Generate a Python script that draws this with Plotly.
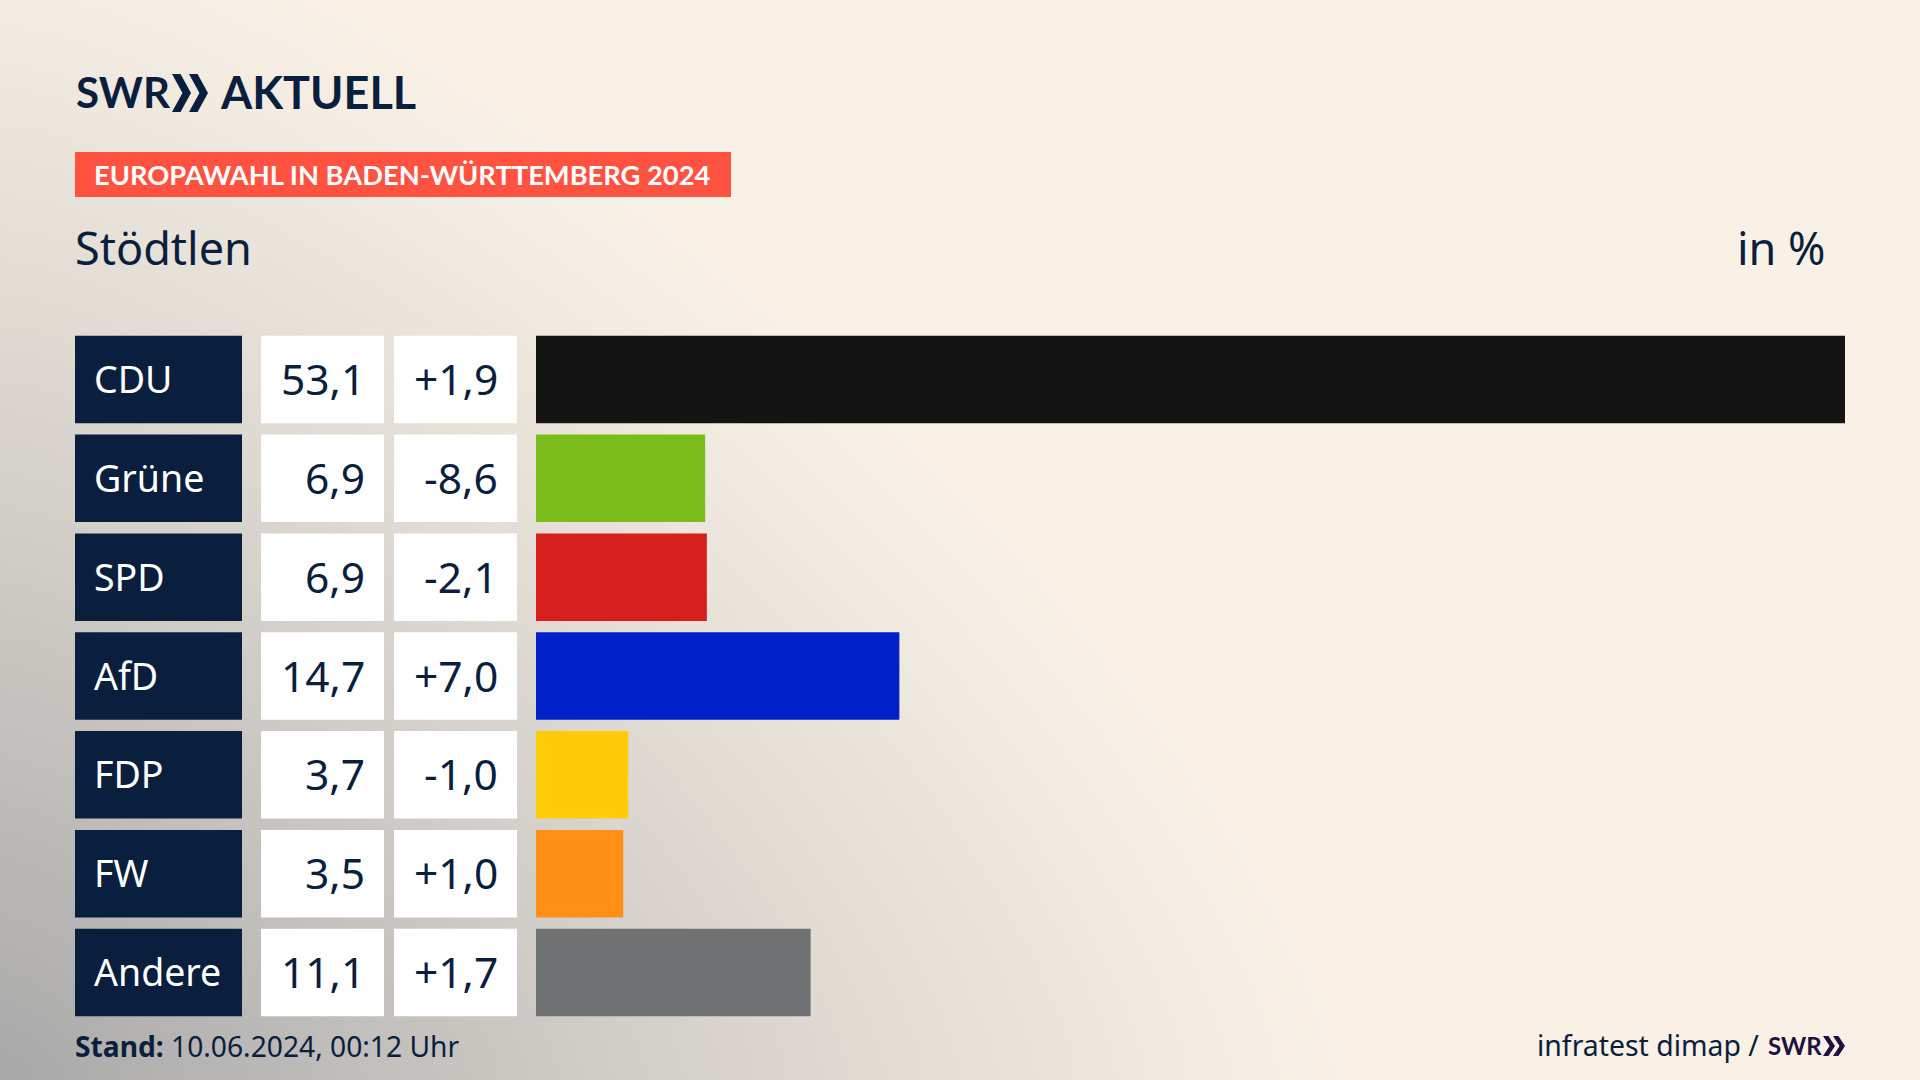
import numpy as np
import plotly.graph_objects as go

W, H = 1920, 1080

parties = ["CDU", "Grüne", "SPD", "AfD", "FDP", "FW", "Andere"]
shares = [53.1, 6.86, 6.93, 14.74, 3.74, 3.54, 11.14]
changes = [1.9, -8.6, -2.1, 7.0, -1.0, 1.0, 1.7]
bar_colors = ["#141414", "#7abd1a", "#d7201d", "#0021c8", "#ffcc0a", "#ff8f17", "#707173"]

NAVY = "#0a1f3e"
BODY = "Noto Sans"
LOGO = "Lato"


def de(value, plus=False):
    fmt = "{:+.1f}" if plus else "{:.1f}"
    return fmt.format(value).replace(".", ",")


def px(x):
    return x / W


def py(y):
    return 1 - y / H


def chevrons(x, top, bottom, width, step, color):
    # logo arrows, two slanted chevrons, pixel coordinates
    mid = (top + bottom) / 2
    thick = width * 0.45
    shapes = []
    for i in range(2):
        x0 = x + i * step
        path = (f"M{px(x0)},{py(top)} L{px(x0 + thick)},{py(top)} L{px(x0 + width)},{py(mid)} "
                f"L{px(x0 + thick)},{py(bottom)} L{px(x0)},{py(bottom)} L{px(x0 + width - thick)},{py(mid)} Z")
        shapes.append(dict(type="path", path=path, xref="paper", yref="paper",
                           fillcolor=color, line=dict(width=0)))
    return shapes


def text(x, y, label, size, anchor="left", color=NAVY, family=BODY, yref="paper"):
    return dict(x=px(x), y=py(y) if yref == "paper" else y, xref="paper", yref=yref, text=label,
                showarrow=False, xanchor=anchor, yanchor="middle", align=anchor, yshift=1 if yref != "paper" else 0,
                font=dict(family=family, size=size, color=color))


# backdrop: grey glow from the lower left corner into the cream page
gx = np.linspace(0, W, 65)
gy = np.linspace(0, H, 37)
xx, yy = np.meshgrid(gx, gy)
glow = 1 - ((xx / 1350) ** 1.4 + ((H - yy) / 1200) ** 1.4) ** (1 / 1.4)
glow = np.clip(glow, 0, 1) ** 1.15

fig = go.Figure()
fig.add_trace(go.Heatmap(x=gx, y=gy, z=glow, zmin=0, zmax=1, zsmooth="best", showscale=False, hoverinfo="skip",
                         colorscale=[[0, "#f9f1e6"], [1, "#a8a8a8"]], xaxis="x", yaxis="y"))

fig.add_trace(go.Bar(y=parties, x=shares, orientation="h", marker=dict(color=bar_colors, line=dict(width=0)),
                     xaxis="x2", yaxis="y2"))
fig.add_trace(go.Bar(y=parties, x=[1] * len(parties), orientation="h", marker=dict(color=NAVY, line=dict(width=0)),
                     xaxis="x3", yaxis="y2", hoverinfo="skip"))
fig.add_trace(go.Bar(y=parties, x=[1] * len(parties), orientation="h", marker=dict(color="white", line=dict(width=0)),
                     xaxis="x4", yaxis="y2", hoverinfo="skip"))
fig.add_trace(go.Bar(y=parties, x=[1] * len(parties), orientation="h", marker=dict(color="white", line=dict(width=0)),
                     xaxis="x5", yaxis="y2", hoverinfo="skip"))

hidden = dict(visible=False, fixedrange=True)
notes = []
for party, share, change in zip(parties, shares, changes):
    notes.append(text(92, party, party, 37.5, color="white", yref="y2"))
    notes.append(text(367, party, de(share), 42.5, anchor="right", yref="y2"))
    notes.append(text(500, party, de(change, plus=True), 42.5, anchor="right", yref="y2"))

notes += [
    text(74, 92, "<b>SWR</b>", 42, family=LOGO),
    text(218, 92, "<b>AKTUELL</b>", 45, family=LOGO),
    text(92, 175, "<b>EUROPAWAHL IN BADEN-WÜRTTEMBERG 2024</b>", 27.3, color="white", family="Lato"),
    text(73, 247, "Stödtlen", 45),
    text(1828, 247, "in %", 45, anchor="right"),
    text(73, 1046, "<b>Stand:</b> 10.06.2024, 00:12 Uhr", 28.2),
    text(1761, 1045, "infratest dimap /", 28.4, anchor="right"),
    text(1766, 1045, "<b>SWR</b>", 24, color="#1f1040", family=LOGO),
]

shapes = [dict(type="rect", xref="paper", yref="paper", x0=px(75), x1=px(731), y0=py(152), y1=py(197),
               fillcolor="#ff5240", line=dict(width=0))]
shapes += chevrons(172, 74, 112, 19, 17, NAVY)
shapes += chevrons(1823, 1036, 1056, 12, 10, "#1f1040")

fig.update_layout(
    width=W, height=H, margin=dict(l=0, r=0, t=0, b=0),
    paper_bgcolor="#f9f1e6", plot_bgcolor="rgba(0,0,0,0)",
    showlegend=False, bargap=0.115, annotations=notes, shapes=shapes,
    xaxis=dict(domain=[0, 1], range=[0, W], **hidden),
    yaxis=dict(domain=[0, 1], range=[H, 0], **hidden),
    xaxis2=dict(domain=[px(536), px(1845)], range=[0, 53.1], anchor="y2", **hidden),
    xaxis3=dict(domain=[px(75), px(242)], range=[0, 1], anchor="y2", **hidden),
    xaxis4=dict(domain=[px(261), px(384)], range=[0, 1], anchor="y2", **hidden),
    xaxis5=dict(domain=[px(394), px(517)], range=[0, 1], anchor="y2", **hidden),
    yaxis2=dict(domain=[py(1022), py(330)], autorange="reversed", anchor="x2", **hidden),
)

fig.write_html("out.html", config=dict(displayModeBar=False), post_script="document.body.style.margin='0';")
